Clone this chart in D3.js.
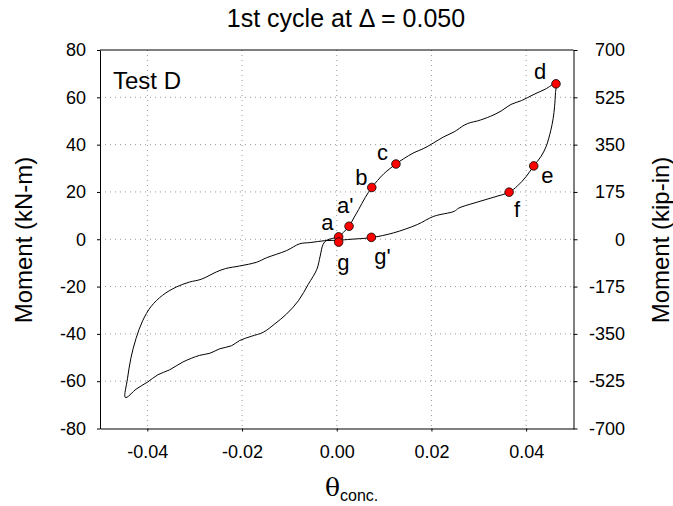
<!DOCTYPE html>
<html>
<head>
<meta charset="utf-8">
<script src="https://cdn.jsdelivr.net/npm/d3@7/dist/d3.min.js"></script>
<style>
  body { margin: 0; background: #fff; }
  svg text { font-family: Arial, "Liberation Sans", sans-serif; fill: #000; }
  .grid line { stroke: #999; stroke-dasharray: 1,4; }
  .axis path, .axis line { stroke: #000; }
</style>
</head>
<body>
<script>
// hysteresis loop (theta, moment kN-m)
const thetaLoop = [
  0.0004, 0.0014, 0.0026, 0.0036, 0.0046, 0.0060, 0.0074, 0.0086, 0.0100, 0.0125,
  0.0141, 0.0163, 0.0184, 0.0205, 0.0226, 0.0248, 0.0269, 0.0282, 0.0297, 0.0325,
  0.0347, 0.0368, 0.0390, 0.0417, 0.0440, 0.0463,
  0.0462, 0.0460, 0.0457, 0.0452, 0.0442, 0.0431, 0.0416, 0.0400, 0.0382, 0.0364,
  0.0332, 0.0290, 0.0258, 0.0248, 0.0205, 0.0170, 0.0120, 0.0073, 0.0030, 0.0004,
  -0.0025, -0.0056, -0.0078, -0.0106, -0.0148, -0.0169, -0.0205, -0.0235, -0.0254, -0.0286,
  -0.0311, -0.0339, -0.0368, -0.0392, -0.0410, -0.0424, -0.0435, -0.0442, -0.0447,
  -0.0443, -0.0424, -0.0399, -0.0378, -0.0353, -0.0325, -0.0290, -0.0268, -0.0247, -0.0222,
  -0.0205, -0.0180, -0.0155, -0.0131, -0.0106, -0.0081, -0.0060, -0.0042, -0.0035, -0.0029,
  -0.0022, -0.0010, 0.0004
];
const momentLoop = [
  0.9, 2.9, 5.5, 9.0, 12.5, 17.6, 21.9, 24.8, 27.8, 31.8,
  34.0, 36.6, 38.4, 40.8, 43.3, 45.4, 48.2, 49.3, 50.0, 52.0,
  54.2, 57.0, 58.6, 61.3, 63.4, 65.8,
  62.0, 56.0, 51.0, 46.0, 39.1, 34.9, 31.0, 26.5, 22.6, 19.9,
  17.8, 15.3, 13.2, 11.8, 9.7, 6.2, 2.7, 0.7, 0.0, -0.4,
  -0.6, -1.4, -1.9, -4.8, -7.8, -9.7, -11.3, -12.4, -13.8, -16.9,
  -18.1, -20.2, -23.7, -28.4, -34.5, -42.0, -50.5, -59.0, -66.8,
  -66.8, -63.4, -60.3, -57.3, -55.2, -51.9, -49.1, -48.2, -46.3, -45.0,
  -42.8, -41.0, -39.3, -35.8, -31.6, -26.0, -19.0, -12.7, -7.1, -2.2,
  -0.5, 0.3, 0.9
];

// marked points
const pointLabels = ["a", "a'", "b", "c", "d", "e", "f", "g", "g'"];
const pointTheta = [0.0004, 0.0026, 0.0074, 0.0125, 0.0463, 0.0416, 0.0364, 0.0004, 0.0073];
const pointMoment = [1.0, 5.5, 21.9, 31.8, 65.7, 31.0, 19.9, -1.2, 0.8];

const xTicks = [-0.04, -0.02, 0.00, 0.02, 0.04];
const xTickLabels = ["-0.04", "-0.02", "0.00", "0.02", "0.04"];
const yTicks = [-80, -60, -40, -20, 0, 20, 40, 60, 80];
const y2Ticks = [-700, -525, -350, -175, 0, 175, 350, 525, 700];

// label offsets from each marker (px)
const labelOffsets = [[-17.5, -7], [-12, -13.5], [-16.5, -2.5], [-19, -4], [-22, -5],
                      [7.5, 17], [5, 24.5], [-1.5, 28], [3, 26.5]];

const W = 673, H = 506;
const plotL = 100, plotR = 573.5, plotT = 50, plotB = 428.5;

const svg = d3.select('body').append('svg')
  .attr('width', W)
  .attr('height', H);

const x = d3.scaleLinear().domain([-0.05, 0.05]).range([plotL, plotR]);
const y = d3.scaleLinear().domain([-80, 80]).range([plotB, plotT]);
const y2 = d3.scaleLinear().domain([-700, 700]).range([plotB, plotT]);

// grid
svg.append('g')
  .attr('class', 'grid')
  .selectAll('line')
  .data(xTicks)
  .enter().append('line')
  .attr('x1', d => x(d)).attr('x2', d => x(d))
  .attr('y1', plotT).attr('y2', plotB);
svg.append('g')
  .attr('class', 'grid')
  .selectAll('line')
  .data(yTicks.filter(d => d > -80 && d < 80))
  .enter().append('line')
  .attr('x1', plotL).attr('x2', plotR)
  .attr('y1', d => y(d)).attr('y2', d => y(d));

// axes
svg.append('g')
  .attr('class', 'axis')
  .attr('transform', `translate(0,${plotB})`)
  .call(d3.axisBottom(x).tickValues(xTicks).tickSize(3).tickSizeOuter(0)
        .tickFormat((d, i) => xTickLabels[i]))
  .call(g => g.selectAll('text').attr('y', 17).attr('dy', '0.71em').style('font-size', '18px'));

svg.append('g')
  .attr('class', 'axis')
  .attr('transform', `translate(${plotL},0)`)
  .call(d3.axisLeft(y).tickValues(yTicks).tickSize(3).tickSizeOuter(0)
        .tickFormat(d => String(d)))
  .call(g => g.selectAll('text').attr('x', -14).style('font-size', '18px'));

svg.append('g')
  .attr('class', 'axis')
  .attr('transform', `translate(${plotR},0)`)
  .call(d3.axisRight(y2).tickValues(y2Ticks).tickSize(4).tickSizeOuter(0)
        .tickFormat(d => String(d)))
  .call(g => g.selectAll('text').attr('x', 51.5).attr('text-anchor', 'end').style('font-size', '18px'));

// top frame line
svg.append('line')
  .attr('x1', plotL).attr('x2', plotR)
  .attr('y1', plotT).attr('y2', plotT)
  .attr('stroke', '#000');

// loop
const loop = thetaLoop.map((t, i) => [t, momentLoop[i]]);
svg.append('path')
  .datum(loop)
  .attr('fill', 'none')
  .attr('stroke', '#000')
  .attr('stroke-width', 1)
  .attr('d', d3.line()
    .x(d => x(d[0]))
    .y(d => y(d[1]))
    .curve(d3.curveCatmullRom.alpha(0.5)));

// markers
const pts = pointLabels.map((l, i) => ({label: l, t: pointTheta[i], m: pointMoment[i], off: labelOffsets[i]}));
svg.selectAll('circle.pt')
  .data(pts)
  .enter().append('circle')
  .attr('class', 'pt')
  .attr('cx', d => x(d.t))
  .attr('cy', d => y(d.m))
  .attr('r', 4.3)
  .attr('fill', '#ff0000')
  .attr('stroke', '#000')
  .attr('stroke-width', 0.8);
svg.selectAll('text.pt')
  .data(pts)
  .enter().append('text')
  .attr('class', 'pt')
  .attr('x', d => x(d.t) + d.off[0])
  .attr('y', d => y(d.m) + d.off[1])
  .style('font-size', '22px')
  .text(d => d.label);

// titles
svg.append('text')
  .attr('x', 346)
  .attr('y', 27)
  .attr('text-anchor', 'middle')
  .style('font-size', '25px')
  .text('1st cycle at \u0394 = 0.050');

svg.append('text')
  .attr('x', 113)
  .attr('y', 89)
  .style('font-size', '24px')
  .text('Test D');

svg.append('text')
  .attr('transform', 'translate(32,240) rotate(-90)')
  .attr('text-anchor', 'middle')
  .style('font-size', '24px')
  .text('Moment (kN-m)');

svg.append('text')
  .attr('transform', 'translate(669,240) rotate(-90)')
  .attr('text-anchor', 'middle')
  .style('font-size', '24px')
  .text('Moment (kip-in)');

const xl = svg.append('text')
  .attr('x', 325)
  .attr('y', 496);
xl.append('tspan')
  .style('font-size', '25px')
  .style('font-family', '"DejaVu Serif", serif')
  .text('\u03b8');
xl.append('tspan')
  .attr('dy', 5)
  .style('font-size', '16px')
  .text('conc.');
</script>
</body>
</html>
